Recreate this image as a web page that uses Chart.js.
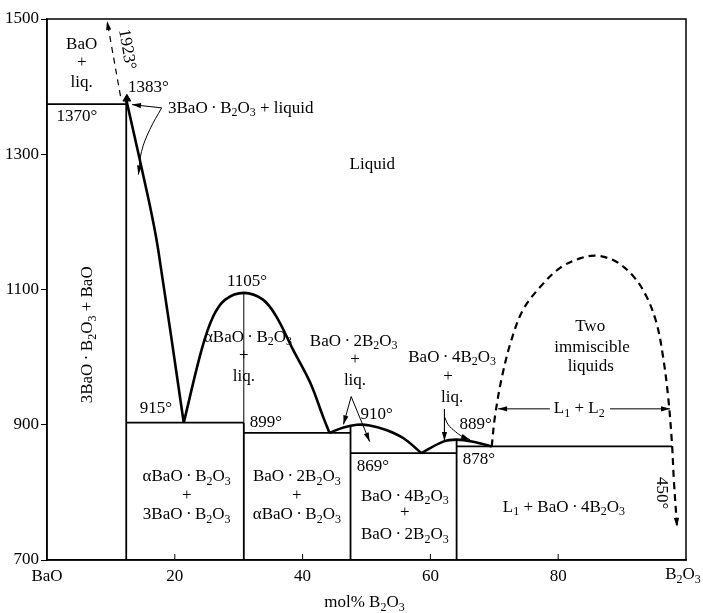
<!DOCTYPE html>
<html><head><meta charset="utf-8">
<script src="https://cdn.jsdelivr.net/npm/chart.js@4.4.1/dist/chart.umd.min.js"></script>
<style>html,body{margin:0;padding:0;background:#fff}#wrap{width:703px;height:613px}</style>
</head><body><div id="wrap"><canvas id="c" width="703" height="613"></canvas></div>
<script>
// ---- axis ----
const xTicks = [0, 20, 40, 60, 80, 100];
const xTickLabels = ['BaO', '20', '40', '60', '80', 'B_2O_3'];
const yTicks = [700, 900, 1100, 1300, 1500];
const xTitle = 'mol% B_2O_3';

// ---- compound compositions (axis units) ----
const c3B1 = 12.4, c1B1 = 30.8, c1B2 = 47.5, c1B4 = 64.1;

// ---- solid phase boundaries [x, T°C] ----
const line1370 = [[0, 1374], [c3B1, 1374]];
const line915 = [[c3B1, 903], [c1B1, 903]];
const line899 = [[c1B1, 888], [c1B2, 888]];
const line869 = [[c1B2, 858], [c1B4, 858]];
const line878 = [[c1B4, 868], [97.8, 868]];
const vert3B1 = [[c3B1, 700], [c3B1, 1381]];
const vert1B1 = [[c1B1, 700], [c1B1, 903]];
const vert1B1Dome = [[c1B1, 903], [c1B1, 1095]];
const vert1B2 = [[c1B2, 700], [c1B2, 899]];
const vert1B4 = [[c1B4, 700], [c1B4, 878]];

// ---- liquidus curves ----
const liq3B1 = [[c3B1, 1381], [15.9, 1233], [17.4, 1159], [21.4, 903]];
const dome1B1 = [[21.4, 903], [24.2, 1011], [26.0, 1060], [27.9, 1085], [30.8, 1095], [33.8, 1085], [35.9, 1060], [38.5, 1011], [41.2, 962], [43.2, 912], [44.2, 888]];
const dome1B2 = [[44.2, 888], [46.4, 896], [48.5, 900], [50.5, 899], [53.2, 892], [55.8, 880], [58.6, 858]];
const dome1B4 = [[58.6, 858], [62.0, 875], [64.1, 878], [66.7, 875], [69.6, 868]];
const immiscibility = [[69.6, 868], [70.1, 912], [71.2, 971], [72.7, 1026], [74.5, 1070], [77.2, 1104], [80.3, 1132], [83.4, 1146], [86.0, 1150], [89.1, 1141], [91.8, 1119], [93.8, 1090], [95.4, 1050], [96.4, 1001], [97.2, 942], [97.8, 873], [98.1, 818], [98.6, 749]];
const meltBaO = [[11.5, 1386], [9.4, 1497]];
const peak3B1 = [[12.5, 1382]];

// ---- annotation pointer lines ----
const l1l2Left = [[78.7, 923.5], [70.6, 923.5]];
const l1l2Right = [[88.1, 923.5], [97.5, 923.5]];
const note3B1Upper = [[17.95, 1368.6], [13.3, 1373.4]];
const note3B1Curve = [[17.95, 1368.6], [16.1, 1336.8], [14.8, 1304.3], [14.3, 1270]];
const note1B2a = [[47.6, 941.7], [46.4, 900.5]];
const note1B2b = [[47.6, 941.7], [50.5, 875]];
const note1B4a = [[62.2, 923], [62.2, 876]];
const note1B4b = [[62.2, 912], [62.8, 900], [63.9, 890], [65.1, 882], [66.2, 878]];

// ---- text labels (data coordinates) ----
const texts = [
  ['BaO', 5.43, 1462], ['+', 5.43, 1436], ['liq.', 5.43, 1406],
  ['1383°', 12.68, 1399, 'left'], ['1370°', 4.69, 1356],
  ['3BaO·B_2O_3 + liquid', 18.94, 1368, 'left'],
  ['Liquid', 50.9, 1285],
  ['3BaO·B_2O_3 + BaO', 6.42, 1033, 'center', -90],
  ['1923°', 12.5, 1455, 'center', 80],
  ['1105°', 31.3, 1112],
  ['αBaO·B_2O_3', 31.45, 1029], ['+', 30.8, 1002], ['liq.', 30.8, 971],
  ['915°', 17.06, 924], ['899°', 34.27, 904],
  ['BaO·2B_2O_3', 48.0, 1023], ['+', 48.2, 996], ['liq.', 48.2, 966],
  ['910°', 51.6, 915], ['869°', 51.0, 838],
  ['BaO·4B_2O_3', 63.4, 1000], ['+', 62.75, 971], ['liq.', 63.4, 940],
  ['889°', 67.1, 901], ['878°', 67.6, 848],
  ['Two', 85.0, 1045], ['immiscible', 85.3, 1014], ['liquids', 85.1, 986],
  ['L_1 + L_2', 83.3, 923.5],
  ['L_1 + BaO·4B_2O_3', 80.9, 778],
  ['450°', 96.2, 799, 'center', 90],
  ['αBaO·B_2O_3', 21.86, 823], ['+', 21.86, 796], ['3BaO·B_2O_3', 21.86, 767],
  ['BaO·2B_2O_3', 39.1, 823], ['+', 39.1, 796], ['αBaO·B_2O_3', 39.1, 767],
  ['BaO·4B_2O_3', 56.0, 794], ['+', 56.0, 769.5], ['BaO·2B_2O_3', 56.0, 737]
];

const FONT = '"Liberation Serif", "Times New Roman", serif';
const toXY = a => a.map(p => ({x: p[0], y: p[1]}));
function ln(pts, o) {
  return Object.assign({data: toXY(pts), showLine: true, pointRadius: 0, borderColor: '#000',
    backgroundColor: '#000', borderWidth: 1.8, fill: false, tension: 0}, o || {});
}
const datasets = [
  ln(line1370), ln(line915), ln(line899), ln(line869), ln(line878),
  ln(vert3B1), ln(vert1B1), ln(vert1B1Dome, {borderWidth: 1}), ln(vert1B2), ln(vert1B4),
  ln(liq3B1, {borderWidth: 2.6, tension: 0.25}),
  ln(dome1B1, {borderWidth: 2.6, tension: 0.35}),
  ln(dome1B2, {borderWidth: 2.6, tension: 0.35}),
  ln(dome1B4, {borderWidth: 2.6, tension: 0.35}),
  ln(immiscibility, {borderWidth: 2.2, tension: 0.35, borderDash: [7, 5]}),
  ln(meltBaO, {borderWidth: 1.2, borderDash: [6, 5]}),
  ln(l1l2Left, {borderWidth: 1}), ln(l1l2Right, {borderWidth: 1}),
  ln(note3B1Upper, {borderWidth: 1}), ln(note3B1Curve, {borderWidth: 1, tension: 0.4}),
  ln(note1B2a, {borderWidth: 1}), ln(note1B2b, {borderWidth: 1}),
  ln(note1B4a, {borderWidth: 1}), ln(note1B4b, {borderWidth: 1, tension: 0.4}),
  {data: toXY(peak3B1), showLine: false, pointStyle: 'triangle', pointRadius: 4.5,
   backgroundColor: '#000', borderColor: '#000', borderWidth: 1}
];
const arrowSegs = [meltBaO, immiscibility, l1l2Left, l1l2Right, note3B1Upper, note3B1Curve,
  note1B2a, note1B2b, note1B4a, note1B4b];

function drawRich(ctx, str, x, y, size, align, rot) {
  str = str.replace(/·/g, '\u2009·\u2009');
  const segs = []; let buf = '';
  for (let i = 0; i < str.length; i++) {
    if (str[i] === '_') { if (buf) { segs.push({t: buf, sub: false}); buf = ''; } segs.push({t: str[i + 1], sub: true}); i++; }
    else buf += str[i];
  }
  if (buf) segs.push({t: buf, sub: false});
  const mainF = size + 'px ' + FONT, subF = Math.round(size * 0.68) + 'px ' + FONT;
  let w = 0;
  segs.forEach(s => { ctx.font = s.sub ? subF : mainF; s.w = ctx.measureText(s.t).width; w += s.w; });
  ctx.save(); ctx.translate(x, y); if (rot) ctx.rotate(rot * Math.PI / 180);
  let cx = align === 'left' ? 0 : align === 'right' ? -w : -w / 2;
  ctx.textBaseline = 'middle'; ctx.fillStyle = '#000';
  segs.forEach(s => { ctx.font = s.sub ? subF : mainF; ctx.fillText(s.t, cx, s.sub ? size * 0.28 : 0); cx += s.w; });
  ctx.restore();
  return w;
}
function arrowHead(ctx, x1, y1, x2, y2, len, hw) {
  const a = Math.atan2(y2 - y1, x2 - x1);
  ctx.save(); ctx.translate(x2, y2); ctx.rotate(a);
  ctx.beginPath(); ctx.moveTo(0, 0); ctx.lineTo(-len, -hw); ctx.lineTo(-len, hw); ctx.closePath();
  ctx.fillStyle = '#000'; ctx.fill(); ctx.restore();
}

const overlay = {
  id: 'overlay',
  afterDraw(chart) {
    const ctx = chart.ctx, xs = chart.scales.x, ys = chart.scales.y, a = chart.chartArea;
    ctx.save();
    ctx.strokeStyle = '#000'; ctx.lineWidth = 1.5;
    ctx.strokeRect(a.left, a.top, a.right - a.left, a.bottom - a.top);
    // inward x tick marks
    ctx.lineWidth = 1;
    xTicks.slice(1, -1).forEach(v => {
      const px = xs.getPixelForValue(v);
      ctx.beginPath(); ctx.moveTo(px, a.bottom); ctx.lineTo(px, a.bottom - 6); ctx.stroke();
    });
    // arrowheads
    arrowSegs.forEach(s => {
      const p = s[s.length - 2], q = s[s.length - 1];
      arrowHead(ctx, xs.getPixelForValue(p[0]), ys.getPixelForValue(p[1]),
        xs.getPixelForValue(q[0]), ys.getPixelForValue(q[1]), 9, 2.6);
    });
    // text labels
    texts.forEach(t => drawRich(ctx, t[0], xs.getPixelForValue(t[1]), ys.getPixelForValue(t[2]), 17, t[3] || 'center', t[4] || 0));
    // last x tick label with subscripts and axis title
    const lastX = Math.min(xs.getPixelForValue(xTicks[xTicks.length - 1]), 683);
    drawRich(ctx, xTickLabels[xTickLabels.length - 1], lastX, a.bottom + 15, 17, 'center', 0);
    drawRich(ctx, xTitle, (a.left + a.right) / 2 - 2, 603, 17, 'center', 0);
    ctx.restore();
  }
};

new Chart(document.getElementById('c'), {
  type: 'scatter',
  data: {datasets},
  options: {
    responsive: false, animation: false,
    layout: {padding: {top: 19, right: 17, bottom: 0, left: 0}},
    plugins: {legend: {display: false}, tooltip: {enabled: false}},
    scales: {
      x: {
        type: 'linear', min: 0, max: 100,
        afterBuildTicks: s => { s.ticks = xTicks.map(v => ({value: v})); },
        afterFit: s => { s.height = 53; },
        grid: {drawOnChartArea: false, drawTicks: false},
        border: {display: true, color: '#000', width: 1.5},
        ticks: {padding: 6, color: '#000', font: {family: FONT, size: 17}, maxRotation: 0, autoSkip: false,
          callback: v => { const i = xTicks.indexOf(v); return (i < 0 || i === xTicks.length - 1) ? '' : xTickLabels[i]; }}
      },
      y: {
        type: 'linear', min: 700, max: 1500,
        afterBuildTicks: s => { s.ticks = yTicks.map(v => ({value: v})); },
        afterFit: s => { s.width = 47; },
        grid: {drawOnChartArea: false, drawTicks: true, tickLength: 6, color: '#000', lineWidth: 1},
        border: {display: true, color: '#000', width: 1.5},
        ticks: {padding: 2, color: '#000', font: {family: FONT, size: 17}, autoSkip: false,
          callback: v => String(v)}
      }
    }
  },
  plugins: [overlay]
});
</script></body></html>
